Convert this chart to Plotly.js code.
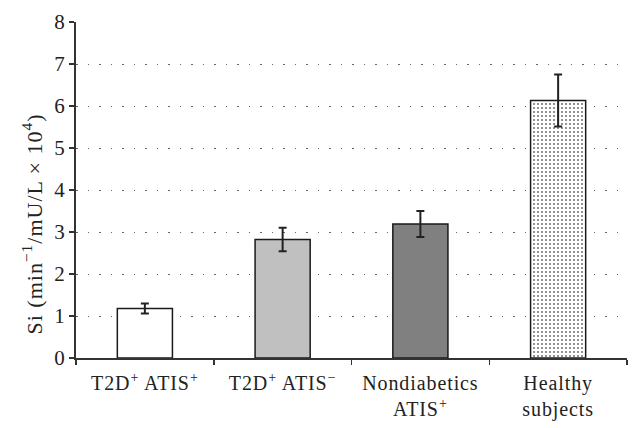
<!DOCTYPE html>
<html><head><meta charset="utf-8">
<script src="https://cdn.plot.ly/plotly-3.0.1.min.js"></script>
<style>html,body{margin:0;padding:0;background:#fff}#c{width:642px;height:428px}
.xtick text{letter-spacing:0.9px}
text.annotation-text{letter-spacing:1px}
</style>
</head><body><div id="c"></div>
<script>
const categories = ["T2D<sup>+</sup> ATIS<sup>+</sup>", "T2D<sup>+</sup> ATIS<sup>−</sup>", "Nondiabetics<br>ATIS<sup>+</sup>", "Healthy<br>subjects"];
const values = [1.18, 2.82, 3.19, 6.13];
const errors = [0.12, 0.28, 0.31, 0.62];
const colors = ["#ffffff", "#c0c0c0", "#808080", "#ffffff"];
const dotted = [false, false, false, true];
const yTicks = [0,1,2,3,4,5,6,7,8];
const yTitle = "Si (min<sup>−1</sup>/mU/L × 10<sup>4</sup>)";

const serif = "Liberation Serif, Times New Roman, serif";
const tickFont = {family: serif, size: 21, color: "#222"};
const catFont = {family: serif, size: 20, color: "#222"};

const pick = (arr, want) => arr.filter((_, i) => dotted[i] === want);
const base = {
  type: "bar", width: 0.4, hoverinfo: "none",
  error_y: {type: "data", visible: true, color: "#222", thickness: 2, width: 4}
};
const plain = Object.assign({}, base, {
  x: pick(categories, false), y: pick(values, false),
  marker: {color: pick(colors, false), line: {color: "#1a1a1a", width: 1.5}},
  error_y: Object.assign({}, base.error_y, {array: pick(errors, false)})
});
const dots = Object.assign({}, base, {
  x: pick(categories, true), y: pick(values, true),
  marker: {color: "#ffffff", line: {color: "#1a1a1a", width: 1.5},
    pattern: {shape: ".", fgcolor: "#777", bgcolor: "#ffffff", size: 4, solidity: 0.22, fillmode: "replace"}},
  error_y: Object.assign({}, base.error_y, {array: pick(errors, true)})
});

Plotly.newPlot("c", [plain, dots], {
  width: 642, height: 428,
  margin: {l: 76, r: 15, t: 22, b: 70},
  paper_bgcolor: "#fff", plot_bgcolor: "#fff",
  font: tickFont, barmode: "overlay",
  showlegend: false,
  xaxis: {
    type: "category", categoryorder: "array", categoryarray: categories,
    showline: true, linecolor: "#333", linewidth: 2,
    ticks: "outside", tickson: "boundaries", ticklen: 5, tickwidth: 1.5, tickcolor: "#333",
    showgrid: false, tickfont: catFont, ticklabelstandoff: 6
  },
  yaxis: {
    range: [0, 8], tickvals: yTicks, ticktext: yTicks.map(String),
    showline: true, linecolor: "#333", linewidth: 2,
    ticks: "outside", ticklen: 5, tickwidth: 1.5, tickcolor: "#333",
    showgrid: true, gridcolor: "#666", gridwidth: 1, griddash: "1.5px,10px",
    zeroline: false, tickfont: tickFont
  },
  annotations: [{
    text: yTitle, textangle: -90, xref: "paper", yref: "paper",
    x: -0.08, y: 0.40, xanchor: "center", yanchor: "middle",
    showarrow: false, font: {family: serif, size: 22, color: "#222"}
  }]
}, {displayModeBar: false, staticPlot: true});
</script></body></html>
